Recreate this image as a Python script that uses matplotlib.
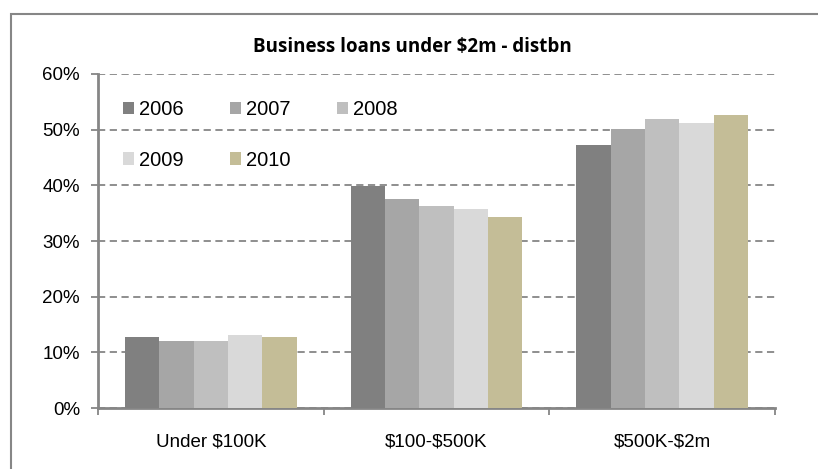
import numpy as np
import matplotlib.pyplot as plt
from matplotlib.patches import Rectangle
from matplotlib.ticker import FuncFormatter, FixedLocator

categories = ['Under \\$100K', '\\$100-\\$500K', '\\$500K-\\$2m']
years = ['2006', '2007', '2008', '2009', '2010']
share_2006 = [12.7, 39.9, 47.2]
share_2007 = [12.0, 37.6, 50.1]
share_2008 = [12.0, 36.2, 51.9]
share_2009 = [13.1, 35.8, 51.2]
share_2010 = [12.7, 34.4, 52.7]
colours = ['#808080', '#a6a6a6', '#bfbfbf', '#d9d9d9', '#c4bd97']

series = [share_2006, share_2007, share_2008, share_2009, share_2010]

plt.rcParams['font.family'] = ['Liberation Sans', 'DejaVu Sans']

fig = plt.figure(figsize=(8.18, 4.69), dpi=100)
ax = fig.add_axes([98 / 818, 61 / 469, 677 / 818, 334 / 469])

# outer chart frame (only top/left edge fall inside the image)
fig.patches.append(Rectangle((11 / 818, -0.1), 1.2, (469 - 14) / 469 + 0.1,
                             transform=fig.transFigure, fill=False,
                             edgecolor='#868686', linewidth=1.5))

x = np.arange(len(categories))
n = len(series)
bar_w = 0.76 / n
bars = []
for i, vals in enumerate(series):
    b = ax.bar(x - 0.38 + bar_w * (i + 0.5), vals, width=bar_w, color=colours[i],
               label=years[i], zorder=3)
    bars.append(b)

ax.set_xlim(-0.5, 2.5)
ax.set_ylim(0, 60)
ax.set_yticks(np.arange(0, 61, 10))
ax.yaxis.set_major_formatter(FuncFormatter(lambda v, p: f'{v:.0f}%'))
ax.grid(axis='y', color='#868686', linestyle=(0, (4, 2.5)), linewidth=1.3, zorder=0)

ax.set_xticks(x)
ax.set_xticklabels(categories)
ax.xaxis.set_minor_locator(FixedLocator([-0.5, 0.5, 1.5, 2.5]))
ax.tick_params(axis='x', which='major', length=0, labelsize=13.5, pad=18)
ax.tick_params(axis='x', which='minor', length=5, width=1.3, color='#868686', direction='out')
ax.tick_params(axis='y', length=5, width=1.3, color='#868686', labelsize=13.5, pad=8)

for s in ['top', 'right']:
    ax.spines[s].set_visible(False)
for s in ['left', 'bottom']:
    ax.spines[s].set_color('#868686')
    ax.spines[s].set_linewidth(2)

# legend filled row by row: 2006 2007 2008 / 2009 2010
order = [0, 3, 1, 4, 2]
ax.legend([bars[i] for i in order], [years[i] for i in order],
          loc='upper left', bbox_to_anchor=(0.01, 0.975), ncol=3, frameon=False,
          fontsize=14.5, handlelength=0.55, handleheight=0.55, handletextpad=0.25,
          columnspacing=2.3, labelspacing=1.55)

fig.text(412 / 818, 1 - 47 / 469, 'Business loans under \\$2m - distbn',
         ha='center', va='center', fontsize=13.5, fontweight='bold',
         family=['Open Sans', 'DejaVu Sans'])

fig.savefig('out.png', dpi=100)
